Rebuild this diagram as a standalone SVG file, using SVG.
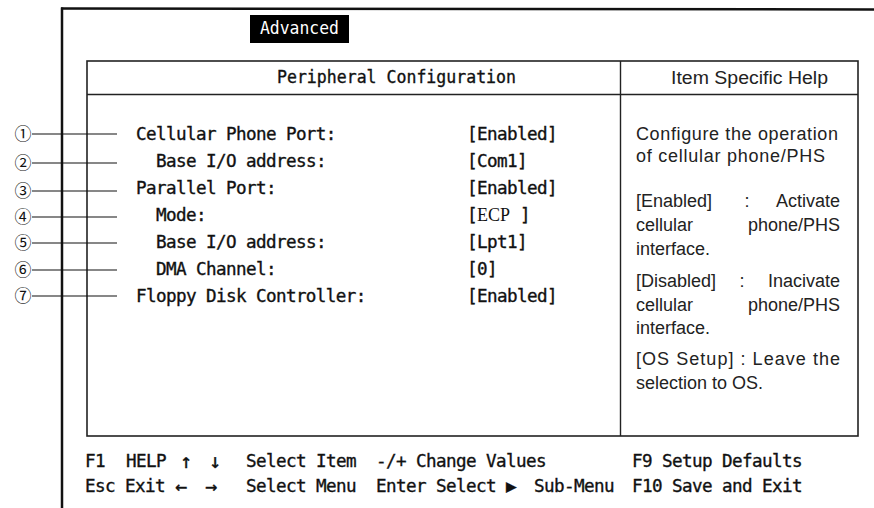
<svg xmlns="http://www.w3.org/2000/svg" width="874" height="508" viewBox="0 0 874 508">
<style>
.m{font-family:"DejaVu Sans Mono","Liberation Mono",monospace;font-size:17.6px;letter-spacing:-0.6px;fill:#111;stroke:#111;stroke-width:0.35}
.h{font-family:"Liberation Sans",Arial,sans-serif;font-size:18px;fill:#222}
.c{font-family:"Noto Sans CJK JP","DejaVu Sans",sans-serif;font-size:17px;fill:#111;text-anchor:middle}
.a{font-size:20px}
.ln{stroke:#111;stroke-width:1.2;fill:none}
.e{text-anchor:end}
</style>
<rect x="0" y="0" width="874" height="508" fill="#fff"/>
<g id="frame">
<line x1="61" y1="8.5" x2="874" y2="9.5" stroke="#111" stroke-width="2.5"/>
<line x1="62" y1="7.5" x2="62" y2="508" stroke="#111" stroke-width="2.5"/>
<rect x="250" y="15" width="99" height="28" fill="#000"/>
<text x="260" y="34" class="m" style="fill:#fff;stroke:none;letter-spacing:0" textLength="79" lengthAdjust="spacingAndGlyphs">Advanced</text>
</g>
<g id="panel">
<rect x="87" y="61" width="771" height="375" fill="none" stroke="#222" stroke-width="1.6"/>
<line x1="87" y1="94.5" x2="858" y2="94.5" stroke="#222" stroke-width="1.6"/>
<line x1="620.5" y1="61" x2="620.5" y2="436" stroke="#222" stroke-width="1.4"/>
<text x="277" y="83" class="m" style="letter-spacing:0" textLength="239" lengthAdjust="spacingAndGlyphs">Peripheral Configuration</text>
<text x="671" y="84" class="h" textLength="157" lengthAdjust="spacingAndGlyphs">Item Specific Help</text>
</g>
<g id="items">
<text x="136" y="140" class="m">Cellular Phone Port:</text>
<text x="156" y="167" class="m">Base I/O address:</text>
<text x="136" y="194" class="m">Parallel Port:</text>
<text x="156" y="221" class="m">Mode:</text>
<text x="156" y="248" class="m">Base I/O address:</text>
<text x="156" y="275" class="m">DMA Channel:</text>
<text x="136" y="302" class="m">Floppy Disk Controller:</text>
</g>
<g id="values">
<text x="467" y="140" class="m">[Enabled]</text>
<text x="467" y="167" class="m">[Com1]</text>
<text x="467" y="194" class="m">[Enabled]</text>
<text x="467" y="221" class="m">[<tspan style="font-family:'Liberation Serif',serif;font-size:18px;stroke:none;letter-spacing:0">ECP</tspan> ]</text>
<text x="467" y="248" class="m">[Lpt1]</text>
<text x="467" y="275" class="m">[0]</text>
<text x="467" y="302" class="m">[Enabled]</text>
</g>
<g id="help">
<text x="636" y="140" class="h" textLength="202" lengthAdjust="spacing">Configure the operation</text>
<text x="636" y="162" class="h" textLength="189" lengthAdjust="spacing">of cellular phone/PHS</text>
<text x="636" y="207" class="h">[Enabled]</text><text x="747" y="207" class="h" style="text-anchor:middle">:</text><text x="840" y="207" class="h e">Activate</text>
<text x="636" y="231" class="h">cellular</text><text x="840" y="231" class="h e">phone/PHS</text>
<text x="636" y="255" class="h">interface.</text>
<text x="636" y="287" class="h">[Disabled]</text><text x="742" y="287" class="h" style="text-anchor:middle">:</text><text x="840" y="287" class="h e">Inacivate</text>
<text x="636" y="311" class="h">cellular</text><text x="840" y="311" class="h e">phone/PHS</text>
<text x="636" y="334" class="h">interface.</text>
<text x="636" y="365" class="h" textLength="204" lengthAdjust="spacing">[OS Setup] : Leave the</text>
<text x="636" y="389" class="h">selection to OS.</text>
</g>
<g id="footer">
<text x="85" y="467" class="m">F1</text>
<text x="126" y="467" class="m">HELP</text>
<text x="180" y="468" class="m a">↑</text>
<text x="209" y="468" class="m a">↓</text>
<text x="246" y="467" class="m">Select Item</text>
<text x="376" y="467" class="m">-/+</text>
<text x="416" y="467" class="m">Change Values</text>
<text x="632" y="467" class="m">F9 Setup Defaults</text>
<text x="85" y="492" class="m">Esc</text>
<text x="125" y="492" class="m">Exit</text>
<text x="175" y="493" class="m a">←</text>
<text x="205" y="493" class="m a">→</text>
<text x="246" y="492" class="m">Select Menu</text>
<text x="376" y="492" class="m">Enter</text>
<text x="436" y="492" class="m">Select</text>
<text x="506" y="492" class="m">▶</text>
<text x="534" y="492" class="m">Sub-Menu</text>
<text x="632" y="492" class="m">F10 Save and Exit</text>
</g>
<g id="callouts">
<text x="23" y="140" class="c">①</text>
<text x="23" y="169" class="c">②</text>
<text x="23" y="197" class="c">③</text>
<text x="23" y="223" class="c">④</text>
<text x="23" y="249" class="c">⑤</text>
<text x="23" y="276" class="c">⑥</text>
<text x="23" y="302" class="c">⑦</text>
</g>
<g id="connectors">
<line class="ln" x1="32" y1="134" x2="117" y2="134"/>
<line class="ln" x1="32" y1="163" x2="117" y2="163"/>
<line class="ln" x1="32" y1="191" x2="117" y2="191"/>
<line class="ln" x1="32" y1="217" x2="117" y2="217"/>
<line class="ln" x1="32" y1="243" x2="117" y2="243"/>
<line class="ln" x1="32" y1="270" x2="117" y2="270"/>
<line class="ln" x1="32" y1="296" x2="117" y2="296"/>
</g>
</svg>
